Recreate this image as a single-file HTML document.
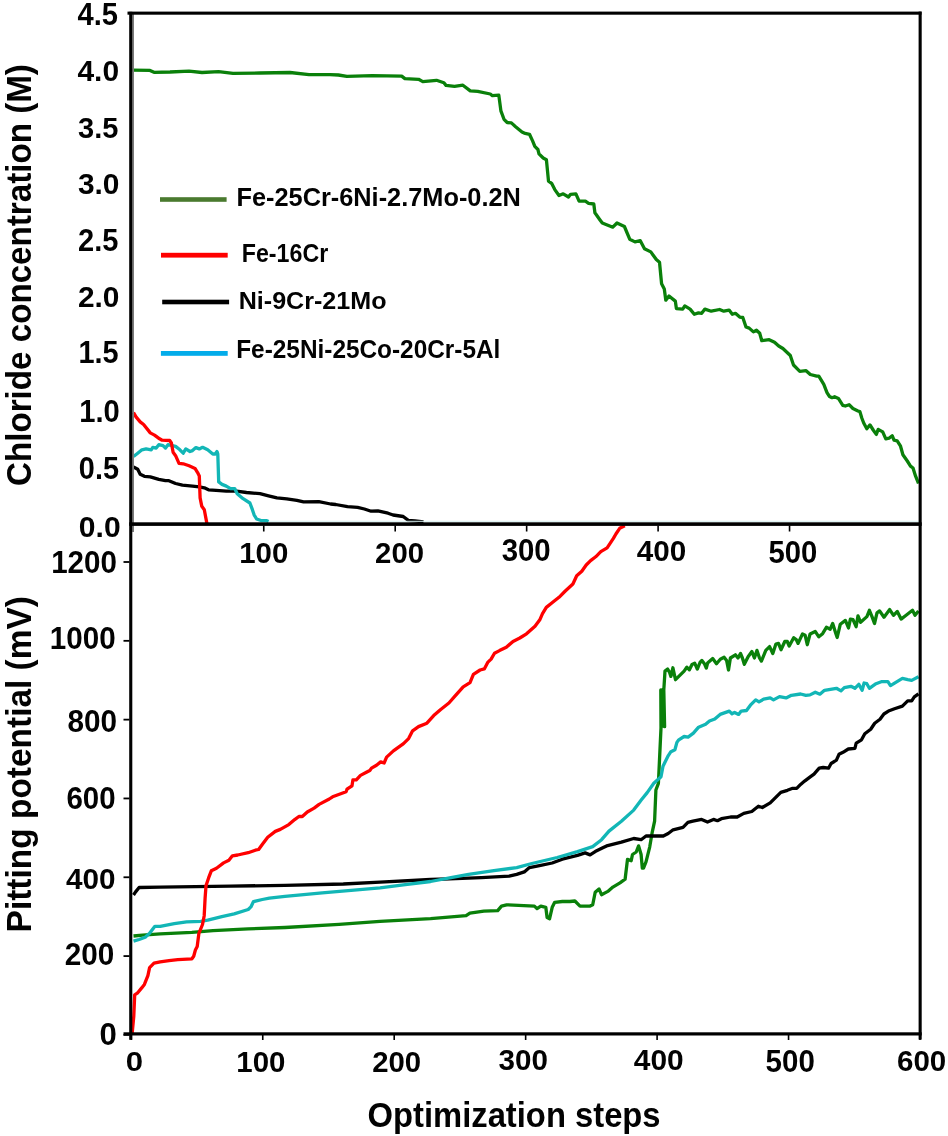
<!DOCTYPE html>
<html><head><meta charset="utf-8"><title>Chart</title>
<style>
html,body{margin:0;padding:0;background:#fff;}
body{width:948px;height:1136px;overflow:hidden;}
svg{display:block;}
</style></head>
<body>
<svg width="948" height="1136" viewBox="0 0 948 1136">
<rect width="948" height="1136" fill="#fff"/>
<defs><clipPath id="ctop"><rect x="131" y="13" width="789" height="510"/></clipPath><clipPath id="cbot"><rect x="131" y="524" width="789" height="510"/></clipPath></defs>
<polyline points="132.5,70.2 150.0,70.4 154.0,72.3 170.0,72.0 189.0,71.2 202.0,72.5 218.6,71.7 233.0,73.4 260.0,73.0 290.0,72.5 309.0,74.6 330.0,74.6 338.4,75.0 346.9,76.3 372.2,75.7 401.7,76.1 404.9,78.6 418.6,79.3 422.8,81.6 436.5,80.3 443.9,82.8 446.0,85.4 454.5,86.4 462.9,85.2 470.3,90.9 477.7,91.3 490.3,94.0 492.4,95.7 498.8,95.1 500.9,110.9 504.0,119.3 507.2,122.5 511.4,122.9 515.6,126.7 522.0,132.0 524.2,133.1 529.5,134.3 532.7,141.1 534.8,146.4 537.9,149.5 539.0,153.8 543.2,158.0 546.4,159.7 548.5,181.2 551.6,183.3 554.8,189.6 559.0,195.5 563.2,193.8 568.5,197.0 570.6,194.3 575.9,193.8 579.1,201.2 585.4,201.2 588.6,203.3 593.8,204.0 594.9,212.8 600.2,220.2 602.3,223.0 612.8,227.2 617.0,223.0 624.4,226.5 629.7,239.2 635.0,241.9 640.3,240.7 644.5,248.7 650.8,251.9 656.3,259.5 659.5,262.2 661.6,283.8 664.3,289.0 665.8,300.2 669.0,296.0 675.3,301.1 676.4,308.6 682.7,309.1 684.8,305.9 690.1,309.1 694.3,314.3 698.5,312.9 701.7,313.3 704.9,309.1 711.2,311.2 719.6,309.5 723.8,311.2 729.1,310.1 732.3,314.3 735.4,313.3 739.7,317.1 742.8,317.5 746.0,327.0 749.2,328.1 753.4,331.9 756.5,330.2 759.7,333.3 761.8,340.7 769.2,339.7 774.5,342.2 778.7,346.0 782.9,348.5 790.3,355.5 793.5,365.0 799.8,371.3 806.1,370.7 810.3,374.5 816.7,376.2 818.8,376.2 823.8,384.4 827.0,392.7 829.5,396.5 832.0,397.7 834.6,396.7 838.4,398.4 842.8,405.3 845.3,406.0 849.1,404.7 852.9,408.5 858.0,411.0 859.9,411.6 861.8,418.0 863.7,423.0 866.8,428.7 870.0,424.9 873.2,430.0 876.3,434.4 878.2,429.4 882.7,431.9 885.8,438.9 889.0,438.2 892.2,435.7 894.0,440.1 897.2,440.8 900.4,445.8 902.9,454.7 907.3,461.0 910.5,466.1 913.0,468.0 915.6,476.2 918.5,483.5" fill="none" stroke="#0a800a" stroke-width="3.3" stroke-linejoin="round" stroke-linecap="butt" clip-path="url(#ctop)"/>
<polyline points="133.5,467.0 137.7,469.2 140.2,474.3 144.4,476.3 150.3,476.8 158.8,479.3 165.5,480.7 168.9,480.7 175.6,483.5 182.4,485.2 192.5,486.1 199.3,486.9 204.3,487.8 208.5,489.8 216.1,490.3 226.3,491.1 236.4,491.1 246.5,492.5 260.0,493.7 268.5,495.9 276.9,497.9 286.8,498.9 296.9,500.3 303.6,501.9 318.8,501.6 330.6,504.0 335.7,504.5 347.5,506.7 357.6,507.3 364.4,509.0 371.1,511.2 377.9,510.9 388.0,513.2 393.1,515.0 403.2,516.5 408.3,520.4 415.0,520.9 423.5,521.9" fill="none" stroke="#000000" stroke-width="3.3" stroke-linejoin="round" stroke-linecap="butt" clip-path="url(#ctop)"/>
<line x1="268" y1="521.3" x2="919" y2="521.3" stroke="#d6f1f1" stroke-width="1"/>
<polyline points="133.5,456.5 137.7,453.2 141.9,449.8 146.1,448.9 151.2,449.8 152.8,447.3 156.2,448.1 158.8,444.7 163.0,445.6 165.5,448.1 168.0,444.7 172.3,445.6 175.6,446.4 179.9,449.8 183.2,453.2 185.8,448.9 190.0,451.5 192.5,450.6 195.9,447.6 199.3,448.9 202.6,447.3 207.7,449.8 212.8,454.0 215.3,454.0 217.0,451.5 217.8,454.0 218.7,481.9 222.0,484.4 226.3,486.1 230.5,488.6 234.7,488.6 237.2,493.7 243.1,498.7 249.9,503.0 252.4,509.7 254.1,514.8 256.6,519.0 261.7,520.7 266.8,520.7 268.5,521.5" fill="none" stroke="#12b6b6" stroke-width="3.3" stroke-linejoin="round" stroke-linecap="butt" clip-path="url(#ctop)"/>
<polyline points="133.5,412.5 136.0,416.9 140.2,421.9 143.6,424.5 150.3,432.9 154.5,435.1 159.6,438.8 162.1,440.2 169.7,440.5 171.4,443.0 173.1,452.3 175.6,455.7 179.0,463.3 183.2,463.8 189.1,465.8 195.0,468.4 197.6,472.6 199.3,475.9 200.1,497.9 201.8,506.3 204.3,509.7 206.9,523.5" fill="none" stroke="#ff0000" stroke-width="3.3" stroke-linejoin="round" stroke-linecap="butt" clip-path="url(#ctop)"/>
<polyline points="133.5,936.0 142.6,935.1 160.2,933.8 191.9,932.4 213.0,930.7 248.2,928.9 285.0,927.5 339.1,924.3 380.0,921.3 430.6,918.7 466.1,915.7 469.9,913.2 483.8,911.1 497.7,910.6 501.5,906.1 506.6,904.8 534.4,906.1 537.0,908.6 540.8,906.1 545.8,907.3 547.1,917.5 549.6,918.7 552.2,907.3 554.7,902.3 562.3,901.5 569.9,901.5 574.9,901.0 580.0,906.1 590.1,906.1 592.7,904.8 595.2,892.2 599.0,888.9 601.5,894.7 607.8,891.4 612.9,887.1 620.0,882.8 625.1,879.2 627.5,859.4 631.2,860.7 632.5,854.5 636.2,852.0 638.6,845.9 641.1,854.5 642.3,868.1 643.5,868.1 646.0,861.9 649.7,847.1 652.2,832.3 654.6,821.2 655.9,790.0 658.4,783.3 659.7,755.6 661.0,727.9 660.8,690.0 663.5,726.0 662.2,690.0 664.6,726.6 663.8,690.0 665.0,671.1 667.6,669.1 669.6,672.4 670.9,676.4 672.9,667.8 674.2,673.8 675.5,679.7 678.8,676.4 684.1,671.1 686.8,667.2 689.4,669.8 692.0,664.5 694.7,663.2 697.3,669.1 700.0,662.5 701.9,660.5 704.4,663.7 706.3,668.1 707.6,663.0 712.7,658.6 716.5,663.7 720.3,659.2 724.1,657.3 726.6,660.5 728.5,670.0 730.4,658.0 735.4,654.8 738.0,658.0 740.5,653.5 742.4,658.0 744.3,664.3 748.1,656.7 751.9,651.6 754.4,658.0 757.0,650.4 759.5,658.0 761.4,661.1 765.8,650.4 769.6,646.6 772.8,653.5 775.9,644.1 778.5,643.4 781.0,649.7 784.8,641.5 787.3,641.5 789.2,646.0 793.7,637.7 796.2,639.6 798.1,643.4 802.5,633.9 805.1,635.2 807.3,644.7 810.1,633.9 815.2,631.4 818.8,636.8 822.6,633.7 826.4,627.3 830.2,629.2 832.7,623.5 835.9,633.7 837.2,637.5 840.3,624.2 845.4,620.4 848.5,628.0 850.4,619.1 853.0,619.7 856.1,626.7 858.0,615.9 860.6,622.3 866.9,616.6 869.4,610.3 872.0,616.6 874.5,623.5 877.0,612.8 879.6,610.9 884.0,617.2 889.7,609.6 893.5,615.3 897.3,611.5 901.1,619.1 906.1,615.3 912.5,610.3 915.0,615.3 918.5,611.0" fill="none" stroke="#0a800a" stroke-width="3.3" stroke-linejoin="round" stroke-linecap="butt" clip-path="url(#cbot)"/>
<polyline points="133.5,895.0 135.6,891.9 139.1,887.5 160.2,887.2 195.4,886.7 230.6,886.1 285.0,885.4 343.3,884.0 380.0,882.2 430.6,879.5 455.9,878.7 481.3,877.7 509.1,876.2 516.7,874.4 524.3,871.9 529.4,867.6 539.5,865.6 552.2,863.0 562.3,859.2 577.5,855.4 585.1,852.9 590.1,854.9 595.2,851.6 602.8,847.8 606.6,845.9 621.4,842.2 633.7,838.5 641.1,839.7 646.0,836.0 663.3,836.0 668.2,833.5 673.1,829.8 683.0,827.4 687.9,822.4 692.9,821.2 701.6,819.4 707.5,822.0 713.5,819.4 717.4,820.7 721.4,818.7 730.6,817.0 737.2,817.0 743.8,813.4 751.8,811.5 758.4,806.2 762.3,807.5 770.2,802.9 775.5,797.6 780.8,792.3 787.4,790.3 792.7,788.3 796.7,788.3 800.6,784.4 804.6,781.1 809.9,777.1 814.0,774.1 819.2,768.2 823.2,767.5 828.5,768.2 831.1,763.5 836.4,760.2 839.0,754.3 843.0,752.3 848.3,749.0 854.9,748.3 856.2,743.1 861.5,739.8 864.8,733.8 870.7,729.2 874.7,723.3 880.0,719.3 883.9,714.0 889.2,710.7 894.5,708.7 902.4,706.1 907.7,700.8 911.7,700.8 914.3,696.9 918.5,693.8" fill="none" stroke="#000000" stroke-width="3.3" stroke-linejoin="round" stroke-linecap="butt" clip-path="url(#cbot)"/>
<polyline points="133.5,941.2 139.1,939.5 145.2,937.2 149.6,933.3 154.9,926.3 160.2,926.3 174.3,923.6 186.6,921.9 200.7,921.3 207.7,920.1 214.8,918.3 221.8,916.6 234.2,913.9 248.2,909.5 250.9,906.9 253.5,901.6 262.3,899.5 269.4,898.1 285.0,896.3 322.2,892.9 380.0,887.8 405.3,884.6 430.6,881.5 450.9,877.7 468.6,874.4 493.9,870.6 516.7,867.6 531.9,863.5 557.2,857.5 577.5,851.6 592.7,846.6 601.6,839.7 609.0,831.1 621.4,821.2 633.7,810.1 641.2,800.0 647.2,792.6 653.8,783.3 661.0,776.7 663.0,766.2 668.3,755.6 670.9,751.7 674.9,749.7 676.9,742.4 678.8,739.8 684.1,736.5 688.1,737.1 693.4,733.2 698.6,727.2 705.6,724.3 709.5,721.0 714.8,719.0 720.1,714.4 729.3,711.1 732.0,713.8 734.6,712.4 738.6,714.4 741.2,711.1 746.5,710.5 750.4,705.2 755.7,699.9 759.0,701.9 763.6,699.2 770.2,697.9 773.5,699.9 779.5,696.6 786.1,697.9 791.4,695.3 800.6,694.0 805.9,695.3 810.0,694.9 815.3,692.2 819.9,694.2 824.5,690.3 836.4,688.3 841.0,690.9 844.3,687.6 850.9,686.3 854.9,688.3 858.8,684.3 862.1,690.3 864.1,683.0 866.8,683.7 869.4,688.3 876.0,683.7 881.3,681.7 887.9,681.7 890.5,685.6 895.8,682.3 902.4,678.4 907.7,679.7 911.7,680.4 918.5,676.8" fill="none" stroke="#12b6b6" stroke-width="3.3" stroke-linejoin="round" stroke-linecap="butt" clip-path="url(#cbot)"/>
<polyline points="132.2,1033.0 133.8,1016.0 134.7,994.9 137.3,993.2 141.7,987.9 144.4,984.4 147.9,975.6 149.6,967.6 154.0,963.2 160.2,961.8 169.0,960.6 177.8,959.7 191.9,958.8 193.7,956.2 195.4,950.0 197.2,946.5 198.9,933.3 202.5,924.5 204.2,915.7 205.1,898.1 206.0,885.8 208.6,877.9 211.3,870.8 216.5,868.2 223.6,862.9 228.9,860.2 232.4,855.8 237.7,855.0 248.2,852.7 255.3,850.2 258.6,849.5 262.6,844.0 267.7,837.3 275.3,831.4 280.3,829.4 288.8,824.6 294.7,819.6 298.9,816.5 302.3,816.5 307.3,812.0 314.1,808.1 319.1,804.4 329.3,799.0 332.6,796.8 339.4,794.3 346.1,791.7 347.0,789.2 352.0,785.8 352.9,779.9 356.3,779.9 360.5,775.4 366.4,772.3 369.8,770.6 371.5,768.1 376.5,765.2 380.7,761.9 384.1,763.0 386.6,757.1 393.4,750.9 403.5,743.6 408.6,738.6 412.6,730.8 418.5,726.6 426.9,723.2 433.7,715.6 440.4,709.7 448.9,703.0 455.6,695.4 463.2,686.9 470.0,682.7 473.4,674.3 480.1,670.0 484.3,668.9 487.7,662.4 491.1,659.1 494.5,653.2 499.5,650.6 506.3,647.3 513.0,641.4 519.8,638.0 526.5,633.8 535.0,626.2 540.0,619.4 542.5,613.7 546.3,607.4 552.7,602.3 559.0,597.3 565.3,591.0 572.9,584.0 576.7,575.8 581.8,571.3 586.2,565.0 590.6,560.6 595.7,556.8 600.8,551.7 607.1,547.9 609.6,544.1 613.4,538.4 615.9,534.0 619.7,528.3 624.8,525.8" fill="none" stroke="#ff0000" stroke-width="3.3" stroke-linejoin="round" stroke-linecap="butt" clip-path="url(#cbot)"/>
<rect x="132.2" y="14" width="1.8" height="518" fill="#7a7a7a"/>
<rect x="129.2" y="11.8" width="3.1" height="1028" fill="#000"/>
<rect x="127.5" y="11.6" width="794" height="3.1" fill="#000"/>
<rect x="918.6" y="11.6" width="3.1" height="1028" fill="#000"/>
<rect x="129.2" y="522.3" width="792.5" height="3.6" fill="#000"/>
<rect x="123.5" y="1032.3" width="798.2" height="3.2" fill="#000"/>
<rect x="123.5" y="1034.00" width="6" height="1.8" fill="#000"/>
<rect x="123.5" y="955.18" width="6" height="1.8" fill="#000"/>
<rect x="123.5" y="876.37" width="6" height="1.8" fill="#000"/>
<rect x="123.5" y="797.55" width="6" height="1.8" fill="#000"/>
<rect x="123.5" y="718.74" width="6" height="1.8" fill="#000"/>
<rect x="123.5" y="639.92" width="6" height="1.8" fill="#000"/>
<rect x="123.5" y="561.10" width="6" height="1.8" fill="#000"/>
<rect x="262.95" y="525.5" width="1.6" height="6" fill="#000"/>
<rect x="394.40" y="525.5" width="1.6" height="6" fill="#000"/>
<rect x="525.85" y="525.5" width="1.6" height="6" fill="#000"/>
<rect x="657.30" y="525.5" width="1.6" height="6" fill="#000"/>
<rect x="788.75" y="525.5" width="1.6" height="6" fill="#000"/>
<rect x="130.50" y="1035" width="1.6" height="5" fill="#000"/>
<rect x="261.95" y="1035" width="1.6" height="5" fill="#000"/>
<rect x="393.40" y="1035" width="1.6" height="5" fill="#000"/>
<rect x="524.85" y="1035" width="1.6" height="5" fill="#000"/>
<rect x="656.30" y="1035" width="1.6" height="5" fill="#000"/>
<rect x="787.75" y="1035" width="1.6" height="5" fill="#000"/>
<rect x="919.20" y="1035" width="1.6" height="5" fill="#000"/>
<rect x="160" y="197.2" width="66.6" height="4.6" fill="#4a7a2f"/>
<rect x="161" y="252.8" width="66.7" height="4.8" fill="#ff0000"/>
<rect x="162.2" y="299.7" width="66.9" height="4.6" fill="#000"/>
<rect x="160.9" y="351" width="66.8" height="4.8" fill="#03acea"/>
<g font-family="'Liberation Sans', sans-serif" font-weight="bold" fill="#000" style="opacity:0.995">
<text transform="translate(236.45,205.84) scale(0.2535,0.2599)" font-size="100">Fe-25Cr-6Ni-2.7Mo-0.2N</text>
<text transform="translate(241.79,261.55) scale(0.2321,0.2507)" font-size="100">Fe-16Cr</text>
<text transform="translate(238.67,308.96) scale(0.2512,0.2395)" font-size="100">Ni-9Cr-21Mo</text>
<text transform="translate(236.21,358.15) scale(0.2440,0.2517)" font-size="100">Fe-25Ni-25Co-20Cr-5Al</text>
<text transform="translate(77.46,25.49) scale(0.2914,0.3057)" font-size="100">4.5</text>
<text transform="translate(77.45,81.30) scale(0.2996,0.3014)" font-size="100">4.0</text>
<text transform="translate(77.97,137.80) scale(0.2906,0.3014)" font-size="100">3.5</text>
<text transform="translate(77.95,194.10) scale(0.2989,0.3014)" font-size="100">3.0</text>
<text transform="translate(77.98,250.89) scale(0.2906,0.3056)" font-size="100">2.5</text>
<text transform="translate(77.95,306.70) scale(0.2989,0.2958)" font-size="100">2.0</text>
<text transform="translate(78.42,363.39) scale(0.2888,0.3100)" font-size="100">1.5</text>
<text transform="translate(79.30,422.09) scale(0.2918,0.3056)" font-size="100">1.0</text>
<text transform="translate(78.85,478.89) scale(0.2886,0.3056)" font-size="100">0.5</text>
<text transform="translate(78.80,536.70) scale(0.3008,0.3014)" font-size="100">0.0</text>
<text transform="translate(51.18,572.99) scale(0.2958,0.3099)" font-size="100">1200</text>
<text transform="translate(49.77,649.19) scale(0.2962,0.3056)" font-size="100">1000</text>
<text transform="translate(67.51,732.09) scale(0.2975,0.3070)" font-size="100">800</text>
<text transform="translate(66.47,808.59) scale(0.2947,0.3070)" font-size="100">600</text>
<text transform="translate(66.05,888.50) scale(0.2972,0.3028)" font-size="100">400</text>
<text transform="translate(64.66,964.69) scale(0.2972,0.3056)" font-size="100">200</text>
<text transform="translate(99.55,1045.09) scale(0.3116,0.3056)" font-size="100">0</text>
<text transform="translate(239.19,562.60) scale(0.2946,0.2972)" font-size="100">100</text>
<text transform="translate(375.07,562.60) scale(0.2934,0.2972)" font-size="100">200</text>
<text transform="translate(501.66,561.09) scale(0.2941,0.3070)" font-size="100">300</text>
<text transform="translate(636.76,560.70) scale(0.2966,0.2958)" font-size="100">400</text>
<text transform="translate(768.52,562.59) scale(0.2931,0.3070)" font-size="100">500</text>
<text transform="translate(125.65,1071.32) scale(0.3116,0.2817)" font-size="100">0</text>
<text transform="translate(236.29,1071.80) scale(0.2946,0.3014)" font-size="100">100</text>
<text transform="translate(372.17,1071.80) scale(0.2934,0.3014)" font-size="100">200</text>
<text transform="translate(498.56,1070.00) scale(0.2960,0.3014)" font-size="100">300</text>
<text transform="translate(633.85,1070.00) scale(0.2991,0.3014)" font-size="100">400</text>
<text transform="translate(765.62,1071.60) scale(0.2950,0.3042)" font-size="100">500</text>
<text transform="translate(896.97,1071.30) scale(0.2953,0.3042)" font-size="100">600</text>
<text transform="translate(367.49,1127.00) scale(0.3278,0.3460)" font-size="100">Optimization steps</text>
<text transform="translate(30.50,485.93) rotate(-90) scale(0.3316,0.3450)" font-size="100">Chloride concentration (M)</text>
<text transform="translate(30.60,932.38) rotate(-90) scale(0.3347,0.3450)" font-size="100">Pitting potential (mV)</text>
</g>
</svg>
</body></html>
